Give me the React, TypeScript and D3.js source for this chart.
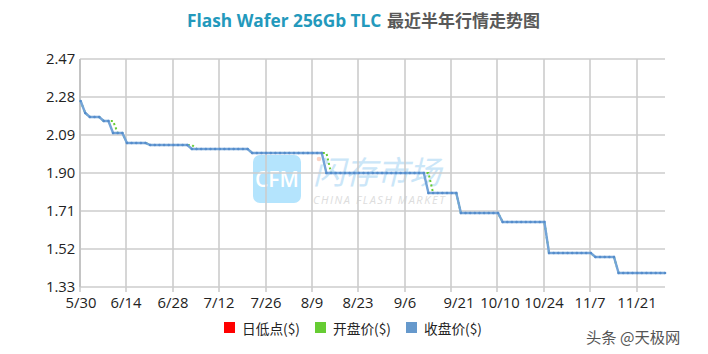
import React from "react";
import * as d3 from "d3";

const tickLabels = ["5/30","6/14","6/28","7/12","7/26","8/9","8/23","9/6","9/21","10/10","10/24","11/7","11/21"];
const tickIndex = [0,10,20,30,40,50,60,70,80,90,100,110,120];
const yTicks = [1.33,1.52,1.71,1.90,2.09,2.28,2.47];

const closePrice = [
  2.26,2.20,2.18,2.18,2.18,2.16,2.16,2.10,2.10,2.10,
  2.05,2.05,2.05,2.05,2.05,2.04,2.04,2.04,2.04,2.04,
  2.04,2.04,2.04,2.04,2.02,2.02,2.02,2.02,2.02,2.02,
  2.02,2.02,2.02,2.02,2.02,2.02,2.02,2.00,2.00,2.00,
  2.00,2.00,2.00,2.00,2.00,2.00,2.00,2.00,2.00,2.00,
  2.00,2.00,2.00,1.90,1.90,1.90,1.90,1.90,1.90,1.90,
  1.90,1.90,1.90,1.90,1.90,1.90,1.90,1.90,1.90,1.90,
  1.90,1.90,1.90,1.90,1.90,1.80,1.80,1.80,1.80,1.80,
  1.80,1.80,1.70,1.70,1.70,1.70,1.70,1.70,1.70,1.70,
  1.70,1.655,1.655,1.655,1.655,1.655,1.655,1.655,1.655,1.655,
  1.655,1.50,1.50,1.50,1.50,1.50,1.50,1.50,1.50,1.50,
  1.50,1.48,1.48,1.48,1.48,1.48,1.40,1.40,1.40,1.40,
  1.40,1.40,1.40,1.40,1.40,1.40,1.40,
];
const openPrice = [
  2.26,2.20,2.18,2.18,2.18,2.16,2.16,2.16,2.10,2.10,
  2.05,2.05,2.05,2.05,2.05,2.04,2.04,2.04,2.04,2.04,
  2.04,2.04,2.04,2.04,2.04,2.02,2.02,2.02,2.02,2.02,
  2.02,2.02,2.02,2.02,2.02,2.02,2.02,2.00,2.00,2.00,
  2.00,2.00,2.00,2.00,2.00,2.00,2.00,2.00,2.00,2.00,
  2.00,2.00,2.00,2.00,1.90,1.90,1.90,1.90,1.90,1.90,
  1.90,1.90,1.90,1.90,1.90,1.90,1.90,1.90,1.90,1.90,
  1.90,1.90,1.90,1.90,1.90,1.90,1.80,1.80,1.80,1.80,
  1.80,1.80,1.70,1.70,1.70,1.70,1.70,1.70,1.70,1.70,
  1.70,1.655,1.655,1.655,1.655,1.655,1.655,1.655,1.655,1.655,
  1.655,1.50,1.50,1.50,1.50,1.50,1.50,1.50,1.50,1.50,
  1.50,1.48,1.48,1.48,1.48,1.48,1.40,1.40,1.40,1.40,
  1.40,1.40,1.40,1.40,1.40,1.40,1.40,
];
const dayLow = closePrice;

const legendItems = [
  { label: "日低点($)", color: "#FF0000", x: 224 },
  { label: "开盘价($)", color: "#66CC33", x: 315 },
  { label: "收盘价($)", color: "#6699CC", x: 406 },
];

const FONT = "'Open Sans', 'Noto Sans CJK SC', sans-serif";
const CJK = "'Noto Sans CJK SC', sans-serif";

export default function App() {
  const x = d3.scaleLinear().domain([0, 126]).range([80.6, 665]);
  const y = d3.scaleLinear().domain([1.33, 2.47]).range([287, 59]);
  const line = d3.line<number>().x((_, i) => x(i)).y((d) => y(d));
  const gx = (i: number) => Math.round(x(i) - 0.6);

  return (
    <svg width={708} height={354} style={{ position: "absolute", left: 0, top: 0, background: "#fff" }}>
      <text x={187} y={27} fontFamily={FONT} fontSize={17.3} fontWeight={700} fill="#2399BC">Flash Wafer 256Gb TLC</text>
      <text x={387} y={27} fontFamily={CJK} fontSize={17} fontWeight={700} fill="#595959">最近半年行情走势图</text>

      {/* watermark */}
      <g>
        <rect x={253} y={155} width={48} height={48} rx={7} fill="#B4E4FD" />
        <text x={277} y={187} textAnchor="middle" fontFamily={FONT} fontSize={21} fontWeight={600} fill="#fff">CFM</text>
        <text x={313} y={184} fontFamily={CJK} fontSize={32} fontWeight={400} fontStyle="italic" fill="#CBE6F8">闪存市场</text>
        <text x={313} y={204} fontFamily={FONT} fontSize={11} fontStyle="italic" letterSpacing={1.55} fill="#DDDDDD">CHINA FLASH MARKET</text>
        <circle cx={319} cy={159} r={2.3} fill="#FBD3C4" />
      </g>

      {/* grid */}
      {yTicks.map((t) => (
        <line key={t} x1={80} x2={665} y1={y(t)} y2={y(t)} stroke="#CCCCCC" strokeWidth={1.6} />
      ))}
      {tickIndex.map((t) => (
        <line key={t} x1={gx(t)} x2={gx(t)} y1={59} y2={292} stroke="#CCCCCC" strokeWidth={1.6} />
      ))}
      <line x1={80} x2={80} y1={59} y2={287} stroke="#C4C4C4" strokeWidth={2} />

      {/* axis labels */}
      {yTicks.map((t) => (
        <text key={t} x={46} y={y(t) + 5} fontFamily={FONT} fontSize={14.8} fill="#222">{t.toFixed(2)}</text>
      ))}
      {tickLabels.map((l, i) => {
        const cx = l === "9/21" ? 459 : l === "5/30" ? 81 : l === "10/10" ? 500 : gx(tickIndex[i]);
        return (
          <text key={l} x={cx} y={308} textAnchor="middle" fontFamily={FONT} fontSize={14.8} fill="#222">{l}</text>
        );
      })}

      {/* series */}
      <path d={line(dayLow) ?? ""} fill="none" stroke="#FF0000" strokeWidth={1} />
      <path d={line(openPrice) ?? ""} fill="none" stroke="#66CC33" strokeWidth={2} strokeDasharray="2 2.6" />
      <path d={line(closePrice) ?? ""} fill="none" stroke="#73A4D8" strokeWidth={2.4} />
      {closePrice.map((d, i) => (
        <circle key={i} cx={x(i)} cy={y(d)} r={1.3} fill="#558CCB" />
      ))}

      {/* legend */}
      {legendItems.map((it) => (
        <g key={it.label}>
          <rect x={it.x} y={322} width={11} height={11} fill={it.color} />
          <text x={it.x + 18} y={334} fontFamily={CJK} fontSize={13.7} fill="#222">{it.label}</text>
        </g>
      ))}

      <text x={586} y={343} fontFamily={CJK} fontSize={15.3} fill="#555">头条 @天极网</text>
    </svg>
  );
}
